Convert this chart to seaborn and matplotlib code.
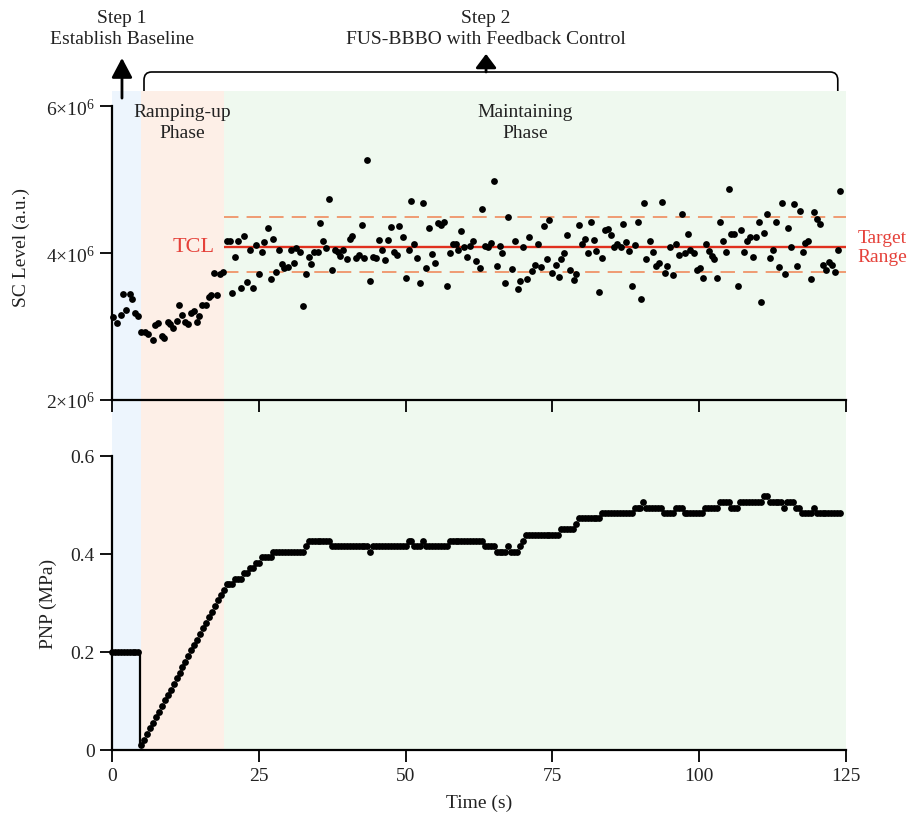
import numpy as np
import pandas as pd
import matplotlib
matplotlib.use("Agg")
import matplotlib.pyplot as plt
import seaborn as sns
from matplotlib.path import Path
from matplotlib.patches import PathPatch

# ---------------- data ----------------
# Phase boundaries (s)
phase_edges = [0, 5, 19, 125]
phase_names = ["Ramping-up\nPhase", "Maintaining\nPhase"]

# Stable-cavitation level (x1e6 a.u.)
sc_time = [
    0.1, 0.9, 1.5, 1.9, 2.4, 3.0, 3.4, 3.9, 4.5,
    5.0, 5.6, 6.2, 6.9, 7.4, 7.9, 8.5, 8.9, 9.5, 9.9, 10.4, 11.0, 11.4, 12.0,
    12.5, 13.0, 13.5, 14.0, 14.5, 14.9, 15.4, 16.0, 16.5, 16.9, 17.4, 17.9, 18.4, 18.9,
    19.5, 20.1, 20.5, 20.9, 21.5, 22.0, 22.5, 23.0, 23.5, 24.0, 24.5, 25.0, 25.5, 25.9,
    26.5, 27.0, 27.5, 28.0, 28.5, 28.9, 29.3, 29.9, 30.5, 31.0, 31.4, 32.0, 32.5, 33.0,
    33.5, 33.9, 34.4, 35.0, 35.5, 36.0, 36.5, 36.9, 37.5, 38.0, 38.5, 38.9, 39.4, 40.0,
    40.5, 40.9, 41.5, 42.0, 42.5, 43.0, 43.5, 44.0, 44.5, 44.9, 45.5, 46.0, 46.5, 47.0,
    47.5, 48.0, 48.5, 48.9, 49.5, 50.0, 50.5, 51.0, 51.5, 52.0, 52.5, 53.0, 53.5, 54.0,
    54.5, 55.0, 55.5, 56.0, 56.5, 57.0, 57.5, 58.0, 58.5, 59.0, 59.5, 60.0, 60.5, 61.0,
    61.5, 62.0, 62.6, 63.0, 63.6, 64.0, 64.5, 65.0, 65.5, 66.0, 66.5, 67.0, 67.5, 68.1,
    68.6, 69.1, 69.5, 70.0, 70.6, 71.0, 71.5, 72.0, 72.5, 73.1, 73.5, 74.0, 74.5, 75.0,
    75.6, 76.1, 76.5, 77.0, 77.5, 78.0, 78.6, 79.1, 79.5, 80.0, 80.5, 81.1, 81.5, 82.0,
    82.5, 83.0, 83.5, 84.0, 84.5, 85.0, 85.5, 86.0, 86.6, 87.1, 87.6, 88.1, 88.5, 89.1,
    89.6, 90.1, 90.6, 91.0, 91.6, 92.1, 92.6, 93.1, 93.6, 94.1, 94.6, 95.1, 95.6, 96.0,
    96.5, 97.1, 97.6, 98.1, 98.5, 99.1, 99.6, 100.1, 100.6, 101.1, 101.6, 102.1, 102.6,
    103.1, 103.6, 104.1, 104.6, 105.1, 105.5, 106.0, 106.6, 107.1, 107.6, 108.1, 108.6,
    109.1, 109.6, 110.1, 110.6, 111.1, 111.6, 112.1, 112.6, 113.1, 113.6, 114.1, 114.6,
    115.1, 115.6, 116.1, 116.6, 117.1, 117.6, 118.1, 118.6, 119.1, 119.6, 120.1, 120.6,
    121.1, 121.6, 122.1, 122.6, 123.1, 123.6, 124.0,
]
sc_level = [
    3.13, 3.05, 3.16, 3.44, 3.22, 3.44, 3.37, 3.19, 3.15,
    2.92, 2.93, 2.90, 2.82, 3.02, 3.05, 2.87, 2.85, 3.06, 3.04, 2.98, 3.08, 3.29, 3.16,
    3.06, 3.04, 3.19, 3.21, 3.06, 3.15, 3.30, 3.30, 3.41, 3.43, 3.73, 3.43, 3.72, 3.74,
    4.16, 4.17, 3.46, 3.95, 4.16, 3.52, 4.24, 3.61, 4.05, 3.52, 4.11, 3.71, 4.02, 4.15,
    4.34, 3.65, 4.19, 3.74, 4.05, 3.85, 3.80, 3.81, 4.05, 3.86, 4.07, 4.01, 3.28, 3.72,
    3.95, 3.85, 4.02, 4.02, 4.41, 4.16, 4.07, 4.74, 3.77, 4.05, 4.02, 3.96, 4.04, 3.92,
    4.19, 4.24, 3.94, 3.97, 4.38, 3.93, 5.27, 3.62, 3.95, 3.94, 4.18, 4.04, 3.91, 4.18,
    4.36, 4.02, 3.98, 4.37, 4.22, 3.66, 4.05, 4.71, 4.12, 3.94, 3.60, 4.68, 3.80, 4.34,
    3.99, 3.86, 4.41, 4.39, 4.43, 3.55, 4.00, 4.12, 4.13, 4.05, 4.30, 4.08, 3.95, 4.10,
    4.17, 3.90, 3.80, 4.60, 4.10, 4.08, 4.14, 4.98, 3.82, 4.10, 4.00, 3.60, 4.49, 3.78,
    4.17, 3.51, 3.62, 4.08, 3.65, 4.22, 3.76, 3.84, 4.12, 3.81, 4.37, 3.92, 4.45, 3.73,
    3.84, 3.67, 3.92, 4.00, 4.25, 3.77, 3.64, 3.72, 4.39, 4.13, 4.20, 4.00, 4.43, 4.18,
    4.03, 3.47, 3.93, 4.32, 4.33, 4.25, 4.09, 4.12, 4.09, 4.40, 4.15, 4.03, 3.55, 4.11,
    4.43, 3.37, 4.68, 3.92, 4.16, 4.01, 3.83, 3.86, 4.70, 3.73, 3.82, 4.08, 3.70, 4.12,
    3.98, 4.54, 4.00, 4.26, 4.05, 4.00, 3.77, 3.80, 3.66, 4.12, 4.03, 3.96, 3.92,
    3.66, 4.43, 4.17, 4.01, 4.88, 4.26, 4.26, 3.56, 4.31, 4.02, 4.17, 4.22,
    3.95, 4.22, 4.43, 3.34, 4.27, 4.54, 3.93, 4.05, 4.42, 3.81, 4.68, 3.72,
    4.35, 4.09, 4.67, 3.82, 4.58, 4.02, 4.14, 4.16, 3.65, 4.56, 4.46, 4.40,
    3.84, 3.77, 3.88, 3.84, 3.74, 4.05, 4.85,
]

# Target cavitation level and target range (x1e6 a.u.)
tcl_level = 4.09
target_upper = 4.49
target_lower = 3.75

# Peak negative pressure (MPa), sampled every 0.5 s
pnp_time = [
    0.0, 0.5, 1.0, 1.5, 2.0, 2.5, 3.0, 3.5, 4.0, 4.5,
    5.0, 5.5, 6.0, 6.5, 7.0, 7.5, 8.0, 8.5, 9.0, 9.5,
    10.0, 10.5, 11.0, 11.5, 12.0, 12.5, 13.0, 13.5, 14.0, 14.5,
    15.0, 15.5, 16.0, 16.5, 17.0, 17.5, 18.0, 18.5, 19.0, 19.5,
    20.0, 20.5, 21.0, 21.5, 22.0, 22.5, 23.0, 23.5, 24.0, 24.5,
    25.0, 25.5, 26.0, 26.5, 27.0, 27.5, 28.0, 28.5, 29.0, 29.5,
    30.0, 30.5, 31.0, 31.5, 32.0, 32.5, 33.0, 33.5, 34.0, 34.5,
    35.0, 35.5, 36.0, 36.5, 37.0, 37.5, 38.0, 38.5, 39.0, 39.5,
    40.0, 40.5, 41.0, 41.5, 42.0, 42.5, 43.0, 43.5, 44.0, 44.5,
    45.0, 45.5, 46.0, 46.5, 47.0, 47.5, 48.0, 48.5, 49.0, 49.5,
    50.0, 50.5, 51.0, 51.5, 52.0, 52.5, 53.0, 53.5, 54.0, 54.5,
    55.0, 55.5, 56.0, 56.5, 57.0, 57.5, 58.0, 58.5, 59.0, 59.5,
    60.0, 60.5, 61.0, 61.5, 62.0, 62.5, 63.0, 63.5, 64.0, 64.5,
    65.0, 65.5, 66.0, 66.5, 67.0, 67.5, 68.0, 68.5, 69.0, 69.5,
    70.0, 70.5, 71.0, 71.5, 72.0, 72.5, 73.0, 73.5, 74.0, 74.5,
    75.0, 75.5, 76.0, 76.5, 77.0, 77.5, 78.0, 78.5, 79.0, 79.5,
    80.0, 80.5, 81.0, 81.5, 82.0, 82.5, 83.0, 83.5, 84.0, 84.5,
    85.0, 85.5, 86.0, 86.5, 87.0, 87.5, 88.0, 88.5, 89.0, 89.5,
    90.0, 90.5, 91.0, 91.5, 92.0, 92.5, 93.0, 93.5, 94.0, 94.5,
    95.0, 95.5, 96.0, 96.5, 97.0, 97.5, 98.0, 98.5, 99.0, 99.5,
    100.0, 100.5, 101.0, 101.5, 102.0, 102.5, 103.0, 103.5, 104.0, 104.5,
    105.0, 105.5, 106.0, 106.5, 107.0, 107.5, 108.0, 108.5, 109.0, 109.5,
    110.0, 110.5, 111.0, 111.5, 112.0, 112.5, 113.0, 113.5, 114.0, 114.5,
    115.0, 115.5, 116.0, 116.5, 117.0, 117.5, 118.0, 118.5, 119.0, 119.5,
    120.0, 120.5, 121.0, 121.5, 122.0, 122.5, 123.0, 123.5, 124.0,
]
pnp_value = [
    0.200, 0.200, 0.200, 0.200, 0.200, 0.200, 0.200, 0.200, 0.200, 0.200,
    0.010, 0.021, 0.033, 0.044, 0.055, 0.067, 0.078, 0.089, 0.101, 0.112,
    0.123, 0.135, 0.146, 0.157, 0.169, 0.180, 0.191, 0.203, 0.214, 0.225,
    0.237, 0.248, 0.259, 0.271, 0.282, 0.293, 0.305, 0.316, 0.327, 0.338,
    0.338, 0.338, 0.349, 0.349, 0.349, 0.360, 0.360, 0.371, 0.371, 0.382,
    0.382, 0.393, 0.393, 0.393, 0.393, 0.404, 0.404, 0.404, 0.404, 0.404,
    0.404, 0.404, 0.404, 0.404, 0.404, 0.404, 0.415, 0.426, 0.426, 0.426,
    0.426, 0.426, 0.426, 0.426, 0.426, 0.415, 0.415, 0.415, 0.415, 0.415,
    0.415, 0.415, 0.415, 0.415, 0.415, 0.415, 0.415, 0.415, 0.404, 0.415,
    0.415, 0.415, 0.415, 0.415, 0.415, 0.415, 0.415, 0.415, 0.415, 0.415,
    0.415, 0.426, 0.426, 0.415, 0.415, 0.415, 0.426, 0.415, 0.415, 0.415,
    0.415, 0.415, 0.415, 0.415, 0.415, 0.426, 0.426, 0.426, 0.426, 0.426,
    0.426, 0.426, 0.426, 0.426, 0.426, 0.426, 0.426, 0.415, 0.415, 0.415,
    0.415, 0.404, 0.404, 0.404, 0.404, 0.415, 0.404, 0.404, 0.404, 0.415,
    0.426, 0.439, 0.439, 0.439, 0.439, 0.439, 0.439, 0.439, 0.439, 0.439,
    0.439, 0.439, 0.439, 0.450, 0.450, 0.450, 0.450, 0.450, 0.461, 0.472,
    0.472, 0.472, 0.472, 0.472, 0.472, 0.472, 0.472, 0.483, 0.483, 0.483,
    0.483, 0.483, 0.483, 0.483, 0.483, 0.483, 0.483, 0.483, 0.494, 0.494,
    0.494, 0.505, 0.494, 0.494, 0.494, 0.494, 0.494, 0.494, 0.483, 0.483,
    0.483, 0.483, 0.494, 0.494, 0.494, 0.483, 0.483, 0.483, 0.483, 0.483,
    0.483, 0.483, 0.494, 0.494, 0.494, 0.494, 0.494, 0.505, 0.505, 0.505,
    0.505, 0.494, 0.494, 0.494, 0.505, 0.505, 0.505, 0.505, 0.505, 0.505,
    0.505, 0.505, 0.518, 0.518, 0.505, 0.505, 0.505, 0.505, 0.505, 0.494,
    0.505, 0.505, 0.505, 0.494, 0.494, 0.483, 0.483, 0.483, 0.483, 0.494,
    0.483, 0.483, 0.483, 0.483, 0.483, 0.483, 0.483, 0.483, 0.483,
]
# Baseline pressure trace (line drawn under the baseline dots)
baseline_line_t = [0.0, 4.75, 4.75]
baseline_line_v = [0.200, 0.200, 0.008]

x_ticks = [0, 25, 50, 75, 100, 125]
sc_ticks = [2e6, 4e6, 6e6]
sc_ticklabels = [r"2$\times$10$^{6}$", r"4$\times$10$^{6}$", r"6$\times$10$^{6}$"]
pnp_ticks = [0, 0.2, 0.4, 0.6]
pnp_ticklabels = ["0", "0.2", "0.4", "0.6"]

# ---------------- style ----------------
sns.set_theme(style="ticks")
plt.rcParams["font.family"] = ["Liberation Serif", "DejaVu Serif"]
plt.rcParams["mathtext.fontset"] = "custom"
plt.rcParams["mathtext.rm"] = "Liberation Serif"
plt.rcParams["mathtext.it"] = "Liberation Serif:italic"
plt.rcParams["font.size"] = 14

TXT = "#222222"
BLUE_BG = "#edf5fd"
ORANGE_BG = "#fdefe7"
GREEN_BG = "#eff9ef"
RED = "#e0301e"
RED_TXT = "#e5413a"
DASH = "#ef9468"

df_sc = pd.DataFrame({"t": sc_time, "v": np.array(sc_level) * 1e6})
df_pnp = pd.DataFrame({"t": pnp_time, "v": pnp_value})

fig = plt.figure(figsize=(9.14, 8.2), dpi=100)
L, W = 112 / 914, 734 / 914
ax1 = fig.add_axes([L, 1 - 401 / 820, W, (401 - 92) / 820])
ax2 = fig.add_axes([L, 1 - 751 / 820, W, (751 - 401) / 820])
ax1.set_zorder(3)
for ax in (ax1, ax2):
    ax.patch.set_alpha(0)
    ax.axvspan(phase_edges[0], phase_edges[1], color=BLUE_BG, lw=0, zorder=0)
    ax.axvspan(phase_edges[1], phase_edges[2], color=ORANGE_BG, lw=0, zorder=0)
    ax.axvspan(phase_edges[2], phase_edges[3], color=GREEN_BG, lw=0, zorder=0)
    ax.set_xlim(0, 125)
    ax.spines["top"].set_visible(False)
    ax.spines["right"].set_visible(False)
    for s in ("left", "bottom"):
        ax.spines[s].set_linewidth(1.6)
        ax.spines[s].set_color("black")
    ax.tick_params(axis="both", which="major", direction="out", length=8.5,
                   width=1.3, color="black", labelsize=14, labelcolor=TXT, pad=4)
    ax.set_xticks(x_ticks)

# ---------------- top panel ----------------
ax1.hlines(tcl_level * 1e6, phase_edges[2], phase_edges[3], color=RED, lw=1.7, zorder=2)
ax1.hlines([target_upper * 1e6, target_lower * 1e6], phase_edges[2], phase_edges[3],
           color=DASH, lw=1.3, linestyles=(0, (8, 4.5)), zorder=2)
sns.scatterplot(data=df_sc, x="t", y="v", ax=ax1, color="black", s=24,
                linewidth=0, clip_on=False, zorder=4, legend=False)
ax1.set_ylim(2e6, 6.21e6)
ax1.set_yticks(sc_ticks)
ax1.set_yticklabels(sc_ticklabels)
ax1.spines["left"].set_bounds(2e6, 6e6)
ax1.tick_params(axis="x", labelbottom=False)
ax1.set_xlabel("")
ax1.set_ylabel("SC Level (a.u.)", fontsize=14, color=TXT)
ax1.yaxis.set_label_coords(-0.112, 0.498)

ax1.text(17.4, tcl_level * 1e6, "TCL", color=RED_TXT, fontsize=16,
         ha="right", va="center")
ax1.text(127.0, tcl_level * 1e6, "Target\nRange", color=RED_TXT, fontsize=14,
         ha="left", va="center", linespacing=1.15, clip_on=False)

trans = ax1.get_xaxis_transform()
ax1.text(11.9, 0.90, phase_names[0], transform=trans, ha="center", va="center",
         fontsize=14, color=TXT, linespacing=1.3)
ax1.text(70.3, 0.90, phase_names[1], transform=trans, ha="center", va="center",
         fontsize=14, color=TXT, linespacing=1.3)

# Step annotations
ax1.text(1.7, 1.205, "Step 1\nEstablish Baseline", transform=trans, ha="center",
         va="center", fontsize=14, color=TXT, linespacing=1.3, clip_on=False)
ax1.text(63.7, 1.205, "Step 2\nFUS-BBBO with Feedback Control", transform=trans,
         ha="center", va="center", fontsize=14, color=TXT, linespacing=1.3, clip_on=False)
ax1.annotate("", xy=(1.7, 1.107), xytext=(1.7, 0.977), xycoords=trans, textcoords=trans,
             arrowprops=dict(arrowstyle="-|>,head_length=0.85,head_width=0.45",
                             lw=2.0, color="black", shrinkA=0, shrinkB=0),
             annotation_clip=False)
ax1.annotate("", xy=(63.7, 1.12), xytext=(63.7, 1.0615), xycoords=trans, textcoords=trans,
             arrowprops=dict(arrowstyle="-|>,head_length=0.6,head_width=0.45",
                             lw=2.0, color="black", shrinkA=0, shrinkB=0),
             annotation_clip=False)
bx0, bx1, by0, by1, rx, ry = 5.45, 123.6, 1.0, 1.0615, 1.3, 0.026
verts = [(bx0, by0), (bx0, by1 - ry), (bx0, by1), (bx0 + rx, by1),
         (bx1 - rx, by1), (bx1, by1), (bx1, by1 - ry), (bx1, by0)]
codes = [Path.MOVETO, Path.LINETO, Path.CURVE3, Path.CURVE3,
         Path.LINETO, Path.CURVE3, Path.CURVE3, Path.LINETO]
ax1.add_patch(PathPatch(Path(verts, codes), transform=trans, fill=False,
                        lw=1.2, edgecolor="black", clip_on=False))

# ---------------- bottom panel ----------------
ax2.plot(baseline_line_t, baseline_line_v, color="black", lw=1.6, zorder=3,
         solid_joinstyle="miter")
sns.scatterplot(data=df_pnp, x="t", y="v", ax=ax2, color="black", s=24,
                linewidth=0, clip_on=False, zorder=4, legend=False)
ax2.set_ylim(0, 0.7135)
ax2.set_yticks(pnp_ticks)
ax2.set_yticklabels(pnp_ticklabels)
ax2.spines["left"].set_bounds(0, 0.6)
ax2.set_xticklabels([str(v) for v in x_ticks])
ax2.set_xlabel("Time (s)", fontsize=14, color=TXT)
ax2.xaxis.set_label_coords(0.5, -0.125)
ax2.set_ylabel("PNP (MPa)", fontsize=14, color=TXT)
ax2.yaxis.set_label_coords(-0.075, 0.42)

fig.savefig("out.png", dpi=100)
